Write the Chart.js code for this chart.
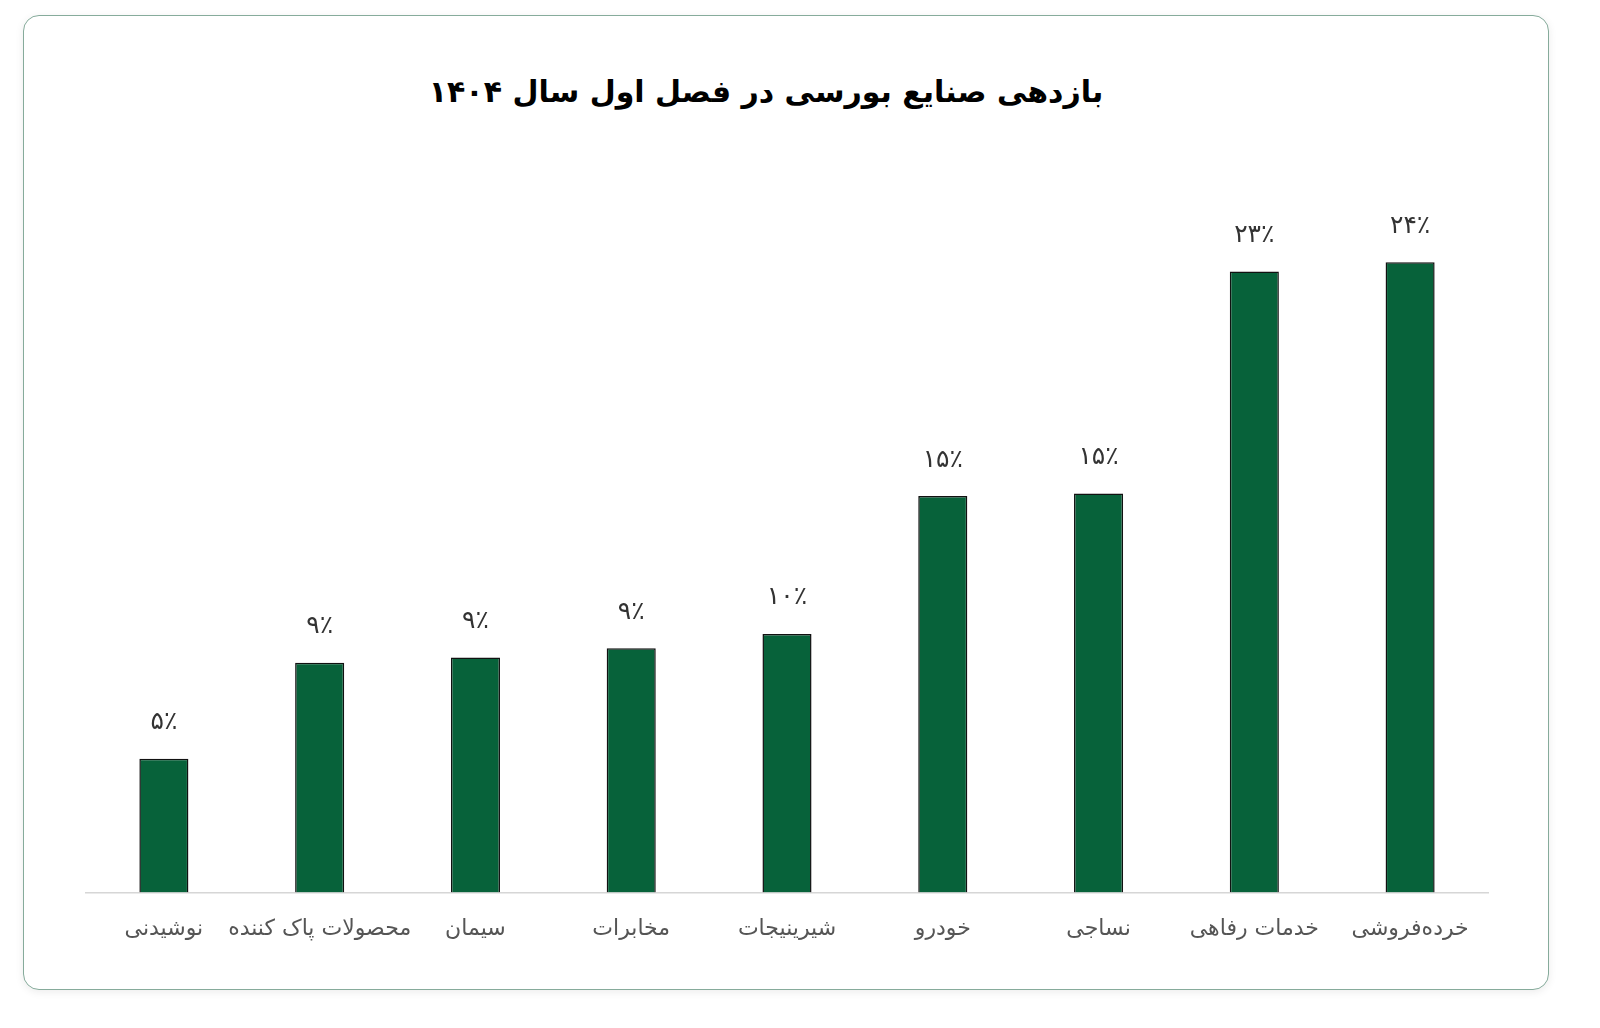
<!DOCTYPE html>
<html lang="fa">
<head>
<meta charset="utf-8">
<script src="https://cdn.jsdelivr.net/npm/chart.js@4.4.1/dist/chart.umd.min.js"></script>
<style>
  html, body { margin: 0; padding: 0; background: #fff; }
  body { width: 1600px; height: 1028px; position: relative; overflow: hidden; }
  .card {
    position: absolute; left: 23px; top: 15px; width: 1524px; height: 973px;
    border: 1px solid #86ab9b; border-radius: 16px; background: #fff;
    box-shadow: 0 2px 8px rgba(0,0,0,0.08);
  }
  .title {
    position: absolute; left: 0; right: 40px; top: 58px; text-align: center;
    font-family: "DejaVu Sans", sans-serif; font-weight: bold; font-size: 30px;
    color: #000; direction: rtl;
  }
  canvas { position: absolute; left: 0; top: 0; }
</style>
</head>
<body>
<div class="card">
  <div class="title">بازدهی صنایع بورسی در فصل اول سال ۱۴۰۴</div>
  <canvas id="c" width="1524" height="973"></canvas>
</div>
<script>
// صنایع، از چپ به راست
var industries = ['نوشیدنی', 'محصولات پاک کننده', 'سیمان', 'مخابرات', 'شیرینیجات', 'خودرو', 'نساجی', 'خدمات رفاهی', 'خرده‌فروشی'];
// بازدهی (درصد) خوانده شده از ارتفاع ستون‌ها
var returns = [5.1, 8.75, 8.95, 9.3, 9.85, 15.1, 15.2, 23.65, 24.0];
// عدد نمایش داده شده بالای هر ستون
var shownPct = [5, 9, 9, 9, 10, 15, 15, 23, 24];

var faNum = n => n.toLocaleString('fa-IR') + '٪';

var valueLabels = {
  id: 'valueLabels',
  afterDatasetsDraw(chart) {
    var ctx = chart.ctx;
    var meta = chart.getDatasetMeta(0);
    ctx.save();
    ctx.font = '25px "DejaVu Sans", sans-serif';
    ctx.fillStyle = '#333';
    ctx.textAlign = 'center';
    ctx.textBaseline = 'middle';
    meta.data.forEach((bar, i) => {
      ctx.fillText(faNum(shownPct[i]), bar.x, bar.y - 36);
    });
    ctx.restore();
  }
};

new Chart(document.getElementById('c'), {
  type: 'bar',
  data: {
    labels: industries,
    datasets: [{
      data: returns,
      backgroundColor: '#07623a',
      borderColor: '#111',
      borderWidth: 1.5,
      barPercentage: 0.5,
      categoryPercentage: 0.63
    }]
  },
  options: {
    responsive: false,
    animation: false,
    layout: { padding: { left: 62, right: 60, top: 220, bottom: 24 } },
    plugins: { legend: { display: false }, tooltip: { enabled: false } },
    scales: {
      x: {
        grid: { display: false, drawTicks: false },
        border: { display: true, color: '#d6d6d6', width: 1.5 },
        ticks: {
          color: '#555',
          font: { family: '"DejaVu Sans", sans-serif', size: 22 },
          padding: 23,
          maxRotation: 0,
          autoSkip: false
        }
      },
      y: {
        display: false,
        min: 0,
        max: 25
      }
    }
  },
  plugins: [valueLabels]
});
</script>
</body>
</html>
